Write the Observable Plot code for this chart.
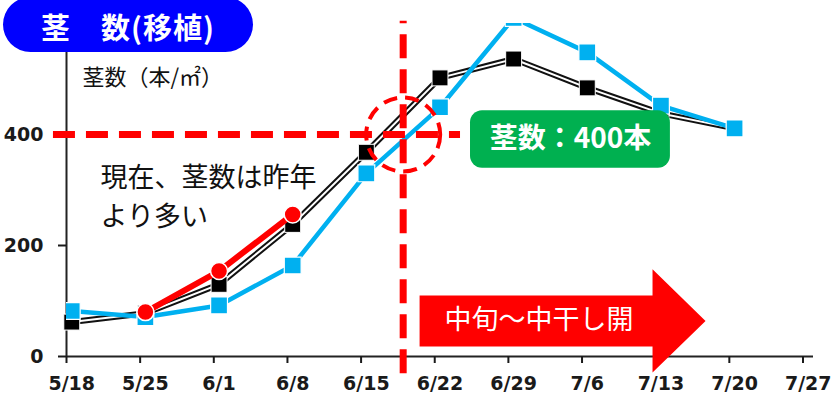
<!DOCTYPE html>
<html><head><meta charset="utf-8">
<script src="https://cdn.jsdelivr.net/npm/d3@7"></script>
<script src="https://cdn.jsdelivr.net/npm/@observablehq/plot@0.6"></script>
<style>
body{margin:0;background:#fff;}
#wrap{position:relative;width:833px;height:398px;overflow:hidden;background:#fff;}
#title{position:absolute;z-index:2;left:3px;top:-3px;width:250px;height:55px;border-radius:28px;background:#0000FF;color:#fff;font:bold 29px "Noto Sans CJK JP",sans-serif;letter-spacing:1px;display:flex;align-items:center;justify-content:center;padding-top:2px;box-sizing:border-box;white-space:pre;}
</style></head><body>
<div id="wrap"><div id="title">茎　数(移植)</div></div>
<script>
// ---- data ----
const weekLabels = ["5/18","5/25","6/1","6/8","6/15","6/22","6/29","7/6","7/13","7/20","7/27"];
const seriesDates = ["5/18","5/25","6/1","6/8","6/15","6/22","6/29","7/6","7/13","7/20"];
const avgStems = [62, 78, 130, 238, 368, 502, 536, 484, 438, 411];      // 平年 (black)
const lastYearStems = [82, 71, 92, 164, 330, 449, 610, 548, 452, 411]; // 昨年 (blue)
const thisYearDates = ["5/25","6/1","6/8"];
const thisYearStems = [80, 154, 256];                                  // 本年 (red)
const yTicks = [0, 200, 400];
const thresholdValue = 400;
const subtitle = "茎数（本/㎡）";
const noteLines = ["現在、茎数は昨年", "より多い"];
const boxLabel = "茎数：400本";
const arrowLabel = "中旬～中干し開";

// ---- helpers ----
const parse = s => { const [m, d] = s.split("/").map(Number); return new Date(Date.UTC(2024, m - 1, d)); };
const t0 = parse("5/18").getTime();
const day = n => new Date(t0 + n * 864e5);
const half = d => new Date(d.getTime() + 432e5);
const weekDates = weekLabels.map(parse);
const labelDates = weekDates.map(half);
const mk = (dates, vals) => dates.map((s, i) => ({date: half(parse(s)), value: vals[i]}));
const avgData = mk(seriesDates, avgStems);
const lastData = mk(seriesDates, lastYearStems);
const thisData = mk(thisYearDates, thisYearStems);

const RED = "#FF0000", BLUE = "#00B0F0", GREEN = "#00B050";
const CJK = "Noto Sans CJK JP";
const AX = "DejaVu Sans";

// annotation geometry (data units: days from 5/18, stems)
const arrowPts = [[33.56,110],[55.7,110],[55.7,157],[60.74,64],[55.7,-29],[55.7,18],[33.56,18]]
  .map(([d, v]) => ({x: day(d), y: v}));

const plot = Plot.plot({
  width: 833, height: 398,
  marginLeft: 66, marginRight: 20, marginTop: 23, marginBottom: 42,
  x: {type: "utc", domain: [day(0), day(71)]},
  y: {domain: [0, 600]},
  style: {background: "transparent", fontFamily: CJK, overflow: "visible"},
  marks: [
    Plot.ruleX([day(0)], {y1: 0, y2: 600, stroke: "#222", strokeWidth: 2}),
    Plot.ruleY([0], {stroke: "#222", strokeWidth: 2}),
    Plot.axisY(yTicks, {tickSize: 8, tickPadding: 15, label: null, fontSize: 19, fontWeight: "bold", fontFamily: AX, color: "#1a1a1a", strokeWidth: 2}),
    Plot.axisX(weekDates, {tickSize: 7, tickFormat: () => "", label: null, color: "#1a1a1a", strokeWidth: 2}),
    Plot.axisX(labelDates, {tickSize: 0, tickPadding: 20, label: null, fontSize: 19, fontWeight: "bold", fontFamily: AX, color: "#1a1a1a",
      tickFormat: d => weekLabels[labelDates.findIndex(w => +w === +d)]}),
    // 平年 (double black line)
    Plot.line(avgData, {x: "date", y: "value", stroke: "#111", strokeWidth: 6}),
    Plot.line(avgData, {x: "date", y: "value", stroke: "#fff", strokeWidth: 2}),
    Plot.dot(avgData, {x: "date", y: "value", symbol: "square", r: 9, fill: "#000", stroke: "#fff", strokeWidth: 1}),
    // 昨年
    Plot.line(lastData, {x: "date", y: "value", stroke: BLUE, strokeWidth: 4.5, clip: true}),
    Plot.dot(lastData, {x: "date", y: "value", symbol: "square", r: 9.5, fill: BLUE, stroke: "#fff", strokeWidth: 1.2, clip: true}),
    // 本年
    Plot.line(thisData, {x: "date", y: "value", stroke: RED, strokeWidth: 6}),
    Plot.dot(thisData, {x: "date", y: "value", r: 8.5, fill: RED, stroke: "#fff", strokeWidth: 1.5}),
    // annotations
    Plot.ruleY([thresholdValue], {x1: day(-1.24), x2: day(37.45), stroke: RED, strokeWidth: 7, strokeDasharray: "22,11"}),
    Plot.ruleX([day(32)], {y1: -31, y2: 604, stroke: RED, strokeWidth: 7, strokeDasharray: "24,11"}),
    Plot.dot([{x: day(32), y: thresholdValue}], {x: "x", y: "y", r: 37, fill: "none", stroke: RED, strokeWidth: 4, strokeDasharray: "14,8"}),
    Plot.rect([{x1: day(38.4), x2: day(57.4), y1: 339, y2: 443}], {x1: "x1", x2: "x2", y1: "y1", y2: "y2", fill: GREEN, rx: 12}),
    Plot.text([boxLabel], {x: day(47.9), y: 391, text: d => d, fill: "#fff", fontSize: 28, fontWeight: "bold", fontFamily: CJK}),
    Plot.line(arrowPts, {x: "x", y: "y", fill: RED, stroke: "none"}),
    Plot.text([arrowLabel], {x: day(44.9), y: 65, text: d => d, fill: "#fff", fontSize: 27, fontFamily: CJK}),
    Plot.text([subtitle], {x: day(1.52), y: 501, text: d => d, textAnchor: "start", fill: "#111", fontSize: 22, fontFamily: CJK}),
    Plot.text(noteLines.map((t, i) => ({t, y: [321, 250][i]})), {x: day(3.23), y: "y", text: "t", textAnchor: "start", fill: "#111", fontSize: 27, fontFamily: CJK})
  ]
});
document.getElementById("wrap").prepend(plot);
</script>
</body></html>
